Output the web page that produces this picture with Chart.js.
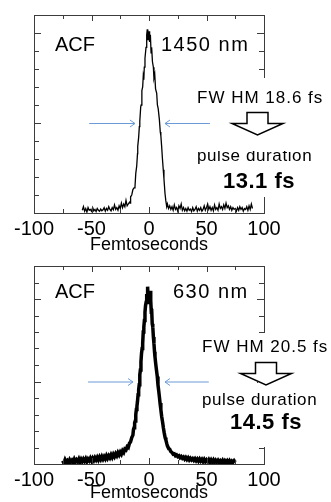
<!DOCTYPE html>
<html>
<head>
<meta charset="utf-8">
<script src="https://cdn.jsdelivr.net/npm/chart.js@4.4.0/dist/chart.umd.min.js"></script>
<style>
html, body { margin: 0; padding: 0; background: #fff; overflow: hidden; }
#c1 { position: absolute; left: 0; top: 0; }
#c2 { position: absolute; left: 0; top: 250px; }
</style>
</head>
<body>
<canvas id="c1" width="331" height="256"></canvas>
<canvas id="c2" width="331" height="254"></canvas>
<script>
// eje x comun
var xTickLabels = [-100, -50, 0, 50, 100];

// ACF 1450 nm
var t1450 = [-58,-57,-56,-55,-54,-53,-52,-51,-50,-49,-48,-47,-46,-45,-44,-43,-42,-41,-40,-39,-38,-37,-36,-35,-34,-33,-32,-31,-30,-29,-28,-27,-26,-25,-24,-23,-22,-21,-20,-19,-18,
  -17,-16.5,-16,-15,-14,-13,-12.2,-11.5,-10.7,-10,-9.8,-9,-8.4,-8,-7.2,-6.8,-6.2,-5.5,-5,-4.5,-4.1,-3.5,-2.6,-2,-1.5,-1,-0.5,0,0.3,0.8,1.2,1.8,2.3,3,3.8,4.3,5,5.7,6.7,7.3,8,9,9.8,10.3,11,11.7,12.4,13,13.9,14.6,15.4,16,17,18,
  19,20,21,22,23,24,25,26,27,28,29,30,31,32,33,34,35,36,37,38,39,40,41,42,43,44,45,46,47,48,49,50,51,52,53,54,55,56,57,58,59,60,61,62,63,64,65,66,67,68,69,70,71,72,73,74,75,76,77,78,79,80,81,82,83,84,85,86,87,88,89,90];
var acf1450 = [0.15,0.35,0.1,0.25,0.05,0.3,0.15,0.2,0.1,0.3,0.12,0.2,0.08,0.25,0.15,0.1,0.22,0.12,0.18,0.3,0.1,0.25,0.15,0.35,0.2,0.12,0.3,0.18,0.45,0.2,0.3,0.15,0.4,0.25,0.55,0.3,0.5,0.35,0.7,0.4,0.5,
  0.6,0.55,0.9,1.0,1.3,1.4,1.45,2.2,2.6,3.3,3.7,4.2,4.8,5.1,5.9,6.0,6.8,7.0,7.6,7.4,8.1,8.6,9.2,9.9,10.2,9.6,10.1,9.7,10.1,9.5,9.9,8.9,9.2,8.4,8.1,7.5,7.7,6.9,6.65,6.0,5.8,5.2,4.5,4.3,3.7,3.0,2.4,1.9,1.1,0.7,0.35,0.5,0.25,0.4,
  0.2,0.35,0.15,0.45,0.2,0.3,0.1,0.4,0.25,0.5,0.15,0.3,0.12,0.25,0.1,0.3,0.15,0.22,0.08,0.3,0.12,0.2,0.35,0.1,0.25,0.15,0.3,0.1,0.2,0.4,0.15,0.3,0.5,0.2,0.35,0.15,0.3,0.12,0.45,0.2,0.3,0.15,0.5,0.25,0.35,0.2,0.45,0.25,0.55,0.3,0.4,0.2,0.35,0.15,0.3,0.2,0.25,0.1,0.3,0.15,0.35,0.2,0.3,0.1,0.25,0.2,0.35,0.15,0.4,0.2,0.5,0.25];

// ACF 630 nm
var t630 = [-75,-74,-73,-72,-71,-70,-69,-68,-67,-66,-65,-64,-63,-62,-61,-60,-59,-58,-57,-56,-55,-54,-53,-52,-51,-50,-49,-48,-47,-46,-45,-44,-43,-42,-41,-40,-39,-38,-37,-36,-35,-34,-33,-32,-31,-30,-29,-28,-27,-26,-25,-24,-23,-22,-21,-20,-19,-18,-17,-16,-15,-14,
  -13.5,-13,-12.5,-12,-11.5,-11,-10.5,-10,-9.5,-9,-8.5,-8,-7.5,-7,-6.5,-6,-5.5,-5,-4.5,-4,-3.5,-3,-2.5,-2,-1.5,-1.2,-0.8,-0.5,-0.2,0.2,0.5,0.9,1.3,1.7,2,2.3,2.8,3.3,3.8,4.3,4.8,5.2,5.8,6.3,7.2,7.8,8.5,9,9.6,10.3,11,11.9,12.5,13.2,14,14.7,15.4,
  16,17,18,19,20,21,22,23,24,25,26,27,28,29,30,31,32,33,34,35,36,37,38,39,40,41,42,43,44,45,46,47,48,49,50,51,52,53,54,55,56,57,58,59,60,61,62,63,64,65,66,67,68,69,70,71,72,73,74,75];
var acf630 = [0.2,0.05,0.25,0.1,0.2,0.08,0.25,0.12,0.22,0.1,0.28,0.12,0.25,0.15,0.3,0.12,0.28,0.15,0.3,0.18,0.32,0.15,0.3,0.2,0.35,0.2,0.35,0.22,0.38,0.25,0.4,0.25,0.42,0.28,0.45,0.3,0.45,0.32,0.5,0.35,0.5,0.38,0.55,0.4,0.58,0.45,0.62,0.5,0.68,0.55,0.72,0.6,0.8,0.7,0.9,0.85,1.05,1.0,1.25,1.35,1.6,1.75,
  2.1,2.2,2.5,2.6,3.0,3.3,3.5,3.8,4.2,4.5,4.8,5.4,5.7,6.2,6.7,7.0,7.3,8.0,8.3,8.7,9.2,9.6,9.8,10.3,10.0,10.75,9.9,10.5,9.7,10.4,9.8,10.5,9.7,9.9,9.2,9.4,8.5,8.3,7.7,7.3,6.8,6.5,6.1,5.8,5.3,4.8,4.4,4.1,3.7,3.3,2.9,2.5,2.2,1.9,1.6,1.45,1.25,
  1.1,0.95,0.9,0.75,0.7,0.6,0.62,0.5,0.55,0.45,0.5,0.38,0.45,0.35,0.42,0.3,0.4,0.28,0.38,0.25,0.35,0.25,0.33,0.22,0.32,0.2,0.3,0.18,0.3,0.18,0.28,0.15,0.28,0.15,0.25,0.14,0.26,0.12,0.25,0.12,0.24,0.1,0.22,0.12,0.22,0.1,0.2,0.1,0.22,0.08,0.2,0.1,0.2,0.08,0.2,0.08,0.18,0.1,0.2,0.1];

// flechas azules a media altura: [cola izq, punta izq, punta der, cola der]
var flechas1450 = [-52, -12.2, 13.9, 53];
var flechas630 = [-53, -13.9, 13.9, 52];

Chart.defaults.font.family = '"Liberation Sans", Arial, sans-serif';
Chart.defaults.color = '#000';

function flechaAzul(ctx, x0, x1, y) {
  var d = x1 > x0 ? 1 : -1;
  ctx.beginPath();
  ctx.moveTo(x0, y); ctx.lineTo(x1, y);
  ctx.moveTo(x1 - d * 5, y - 3.5); ctx.lineTo(x1, y); ctx.lineTo(x1 - d * 5, y + 3.5);
  ctx.stroke();
}

var marcoPlugin = {
  id: 'marco',
  afterDraw: function (chart, args, o) {
    var ctx = chart.ctx, a = chart.chartArea;
    var xs = chart.scales.x, ys = chart.scales.y;
    ctx.save();
    // caja y marcas interiores
    ctx.strokeStyle = '#3c3c3c';
    ctx.lineWidth = 1;
    ctx.strokeRect(a.left + 0.5, a.top + 0.5, a.right - a.left, a.bottom - a.top);
    ctx.beginPath();
    for (var v = -100; v <= 100; v += 25) {
      var px = Math.round(xs.getPixelForValue(v)) + 0.5;
      var lx = v % 50 === 0 ? 6 : 4;
      ctx.moveTo(px, a.bottom); ctx.lineTo(px, a.bottom - lx);
      ctx.moveTo(px, a.top); ctx.lineTo(px, a.top + lx);
    }
    for (var k = 0; k <= o.yMax; k++) {
      var py = Math.round(ys.getPixelForValue(k)) + 0.5;
      var ly = k % 5 === 0 ? 7 : 5;
      ctx.moveTo(a.left, py); ctx.lineTo(a.left + ly, py);
      ctx.moveTo(a.right, py); ctx.lineTo(a.right - ly, py);
    }
    ctx.stroke();
    // hueco blanco detras del texto de la derecha
    ctx.fillStyle = '#fff';
    ctx.fillRect(a.right - 6, o.hueco[0], 12, o.hueco[1] - o.hueco[0]);

    // flechas azules
    var yh = ys.getPixelForValue(o.mitad) + 0.5;
    ctx.strokeStyle = '#6b9bd6';
    ctx.lineWidth = 1;
    flechaAzul(ctx, xs.getPixelForValue(o.flechas[0]), xs.getPixelForValue(o.flechas[1]), yh);
    flechaAzul(ctx, xs.getPixelForValue(o.flechas[3]), xs.getPixelForValue(o.flechas[2]), yh);

    // flecha hueca hacia abajo
    var f = o.flechaHueca;
    ctx.beginPath();
    ctx.moveTo(f.cx - 10.5, f.top); ctx.lineTo(f.cx + 10.5, f.top);
    ctx.lineTo(f.cx + 10.5, f.mid); ctx.lineTo(f.cx + 25.5, f.mid);
    ctx.lineTo(f.cx, f.tip); ctx.lineTo(f.cx - 25.5, f.mid);
    ctx.lineTo(f.cx - 10.5, f.mid); ctx.closePath();
    ctx.fillStyle = '#fff'; ctx.fill();
    ctx.strokeStyle = '#000'; ctx.lineWidth = 1.5; ctx.stroke();

    // textos
    ctx.fillStyle = '#000';
    ctx.textAlign = 'left';
    ctx.textBaseline = 'middle';
    ctx.font = '20px "Liberation Sans", Arial, sans-serif';
    ctx.letterSpacing = '0px';
    ctx.fillText('ACF', 55, o.yTit);
    ctx.letterSpacing = '1.5px';
    ctx.fillText(o.onda, o.xOnda, o.yTit);
    ctx.font = '17px "Liberation Sans", Arial, sans-serif';
    ctx.letterSpacing = '1px';
    ctx.fillText(o.fwhm, o.xFwhm, o.yFwhm);
    ctx.save();
    ctx.beginPath();
    ctx.rect(0, o.corte, 331, 254);
    ctx.clip();
    ctx.letterSpacing = '0.6px';
    ctx.fillText('pulse duration', o.xFwhm, o.yPulso);
    ctx.restore();
    ctx.font = 'bold 22px "Liberation Sans", Arial, sans-serif';
    ctx.letterSpacing = '0.5px';
    ctx.fillText(o.dur, o.xDur, o.yDur);
    ctx.restore();
  }
};

function crearGrafico(id, tiempos, valores, yMax, grosor, padTop, altoEje, notas) {
  var puntos = tiempos.map(function (t, i) { return { x: t, y: valores[i] }; });
  notas.yMax = yMax;
  return new Chart(document.getElementById(id).getContext('2d'), {
    type: 'scatter',
    data: {
      datasets: [{
        data: puntos,
        showLine: true,
        borderColor: '#000',
        borderWidth: grosor,
        pointRadius: 0,
        tension: 0
      }]
    },
    options: {
      responsive: false,
      animation: false,
      devicePixelRatio: 1,
      layout: { padding: { left: 34, right: 67, top: padTop, bottom: 0 } },
      plugins: {
        legend: { display: false },
        tooltip: { enabled: false },
        marco: notas
      },
      scales: {
        x: {
          type: 'linear',
          min: -100,
          max: 100,
          grid: { display: false, drawTicks: false },
          border: { display: false },
          afterBuildTicks: function (s) { s.ticks = xTickLabels.map(function (v) { return { value: v }; }); },
          afterFit: function (s) { s.height = altoEje; },
          ticks: { font: { size: 20 }, padding: 4, maxRotation: 0, autoSkip: false },
          title: { display: true, text: 'Femtoseconds', font: { size: 18, lineHeight: 1 }, padding: { top: 0, bottom: 2 } }
        },
        y: { display: false, min: 0, max: yMax }
      }
    },
    plugins: [marcoPlugin]
  });
}

crearGrafico('c1', t1450, acf1450, 11, 1.3, 15, 43, {
  mitad: 5, flechas: flechas1450, hueco: [78, 197],
  yTit: 45, onda: '1450 nm', xOnda: 161,
  fwhm: 'FW HM 18.6 fs', xFwhm: 197, yFwhm: 98,
  flechaHueca: { cx: 257.5, top: 112.5, mid: 123.5, tip: 135 },
  corte: 151, yPulso: 156,
  dur: '13.1 fs', xDur: 223, yDur: 182
});

crearGrafico('c2', t630, acf630, 12, 3.5, 16, 40, {
  mitad: 5, flechas: flechas630, hueco: [83, 197],
  yTit: 42, onda: '630 nm', xOnda: 173,
  fwhm: 'FW HM 20.5 fs', xFwhm: 202, yFwhm: 97,
  flechaHueca: { cx: 266, top: 112.5, mid: 123.5, tip: 135 },
  corte: 0, yPulso: 150,
  dur: '14.5 fs', xDur: 230, yDur: 173
});
</script>
</body>
</html>
